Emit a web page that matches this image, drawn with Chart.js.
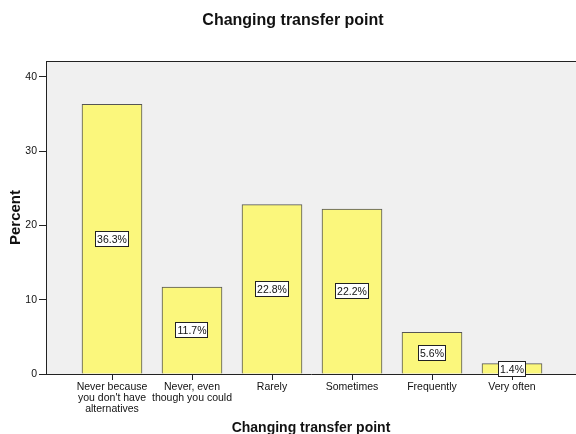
<!DOCTYPE html>
<html>
<head>
<meta charset="utf-8">
<script src="https://cdn.jsdelivr.net/npm/chart.js@4"></script>
<style>
  html, body { margin: 0; padding: 0; background: #fff; overflow: hidden; }
  canvas { display: block; }
</style>
</head>
<body>
<canvas id="chart" width="576" height="444"></canvas>
<script>
const chartTitle = "Changing transfer point";
const xTitle = "Changing transfer point";
const yTitle = "Percent";
const categories = [
  ["Never because", "you don't have", "alternatives"],
  ["Never, even", "though you could"],
  "Rarely",
  "Sometimes",
  "Frequently",
  "Very often"
];
const percents = [36.3, 11.7, 22.8, 22.2, 5.6, 1.4];
const yTicks = [0, 10, 20, 30, 40];

const FONT = "'Liberation Sans', Arial, sans-serif";
const INK = "#111";

// grey plot background + top border line
const plotFrame = {
  id: "plotFrame",
  beforeDraw(chart) {
    const { ctx, chartArea: a } = chart;
    ctx.save();
    ctx.fillStyle = "#f0f0f0";
    ctx.fillRect(a.left, a.top, a.right - a.left, a.bottom - a.top);
    ctx.restore();
  },
  afterDraw(chart) {
    const { ctx, chartArea: a } = chart;
    ctx.save();
    ctx.strokeStyle = "#222";
    ctx.lineWidth = 1;
    ctx.beginPath();
    ctx.moveTo(a.left, Math.round(a.top) + 0.5);
    ctx.lineTo(a.right, Math.round(a.top) + 0.5);
    ctx.stroke();
    // main title
    ctx.fillStyle = INK;
    ctx.font = "bold 16px " + FONT;
    ctx.textAlign = "center";
    ctx.textBaseline = "alphabetic";
    ctx.fillText(chartTitle, 293, 25);
    ctx.restore();
  }
};

// white boxed percentage labels in the middle of each bar
const boxLabels = {
  id: "boxLabels",
  afterDatasetsDraw(chart) {
    const { ctx } = chart;
    const meta = chart.getDatasetMeta(0);
    ctx.save();
    ctx.font = "10.5px " + FONT;
    ctx.textAlign = "center";
    ctx.textBaseline = "middle";
    meta.data.forEach((bar, i) => {
      const txt = percents[i].toFixed(1) + "%";
      const cx = Math.round(bar.x);
      const cy = Math.round((bar.y + bar.base) / 2);
      const w = Math.round(ctx.measureText(txt).width) + 4;
      const h = 16;
      const x0 = cx - Math.round(w / 2), y0 = cy - h / 2;
      ctx.fillStyle = "#fff";
      ctx.fillRect(x0, y0, w, h);
      ctx.strokeStyle = "#222";
      ctx.lineWidth = 1;
      ctx.strokeRect(x0 + 0.5, y0 + 0.5, w - 1, h - 1);
      ctx.fillStyle = INK;
      ctx.fillText(txt, cx, cy + 1);
    });
    ctx.restore();
  }
};

new Chart(document.getElementById("chart"), {
  type: "bar",
  data: {
    datasets: [{
      data: percents.map((v, i) => ({ x: i, y: v })),
      backgroundColor: "#fbf77c",
      borderColor: "#555",
      borderWidth: 1,
      barThickness: 60
    }]
  },
  options: {
    responsive: false,
    devicePixelRatio: 1,
    animation: false,
    layout: { padding: { top: 61, left: 0, right: 0, bottom: 0 } },
    plugins: {
      legend: { display: false },
      tooltip: { enabled: false },
      title: { display: false }
    },
    scales: {
      x: {
        type: "linear",
        offset: false,
        min: -0.825,
        max: 5.8,
        afterBuildTicks: s => { s.ticks = categories.map((_, i) => ({ value: i })); },
        afterFit: s => { s.height = 70; },
        ticks: {
          autoSkip: false,
          maxRotation: 0,
          padding: 2,
          color: INK,
          font: { family: FONT, size: 10.5, lineHeight: 1.05 },
          callback: v => categories[v]
        },
        grid: { offset: false, drawOnChartArea: false, drawTicks: true, tickLength: 6, tickColor: "#222" },
        border: { display: true, color: "#222", width: 1 },
        title: {
          display: true,
          text: xTitle,
          color: INK,
          font: { family: FONT, size: 14, weight: "bold" },
          padding: { top: 0, bottom: 7 }
        }
      },
      y: {
        min: 0,
        max: 42.15,
        afterBuildTicks: s => { s.ticks = yTicks.map(v => ({ value: v })); },
        afterFit: s => { s.width = 46; },
        ticks: {
          padding: 2,
          color: INK,
          font: { family: FONT, size: 10.5 }
        },
        grid: { drawOnChartArea: false, drawTicks: true, tickLength: 7, tickColor: "#222" },
        border: { display: true, color: "#222", width: 1 },
        title: {
          display: true,
          text: yTitle,
          color: INK,
          font: { family: FONT, size: 15, weight: "bold" },
          padding: { top: 7, bottom: 0 }
        }
      }
    }
  },
  plugins: [plotFrame, boxLabels]
});
</script>
</body>
</html>
